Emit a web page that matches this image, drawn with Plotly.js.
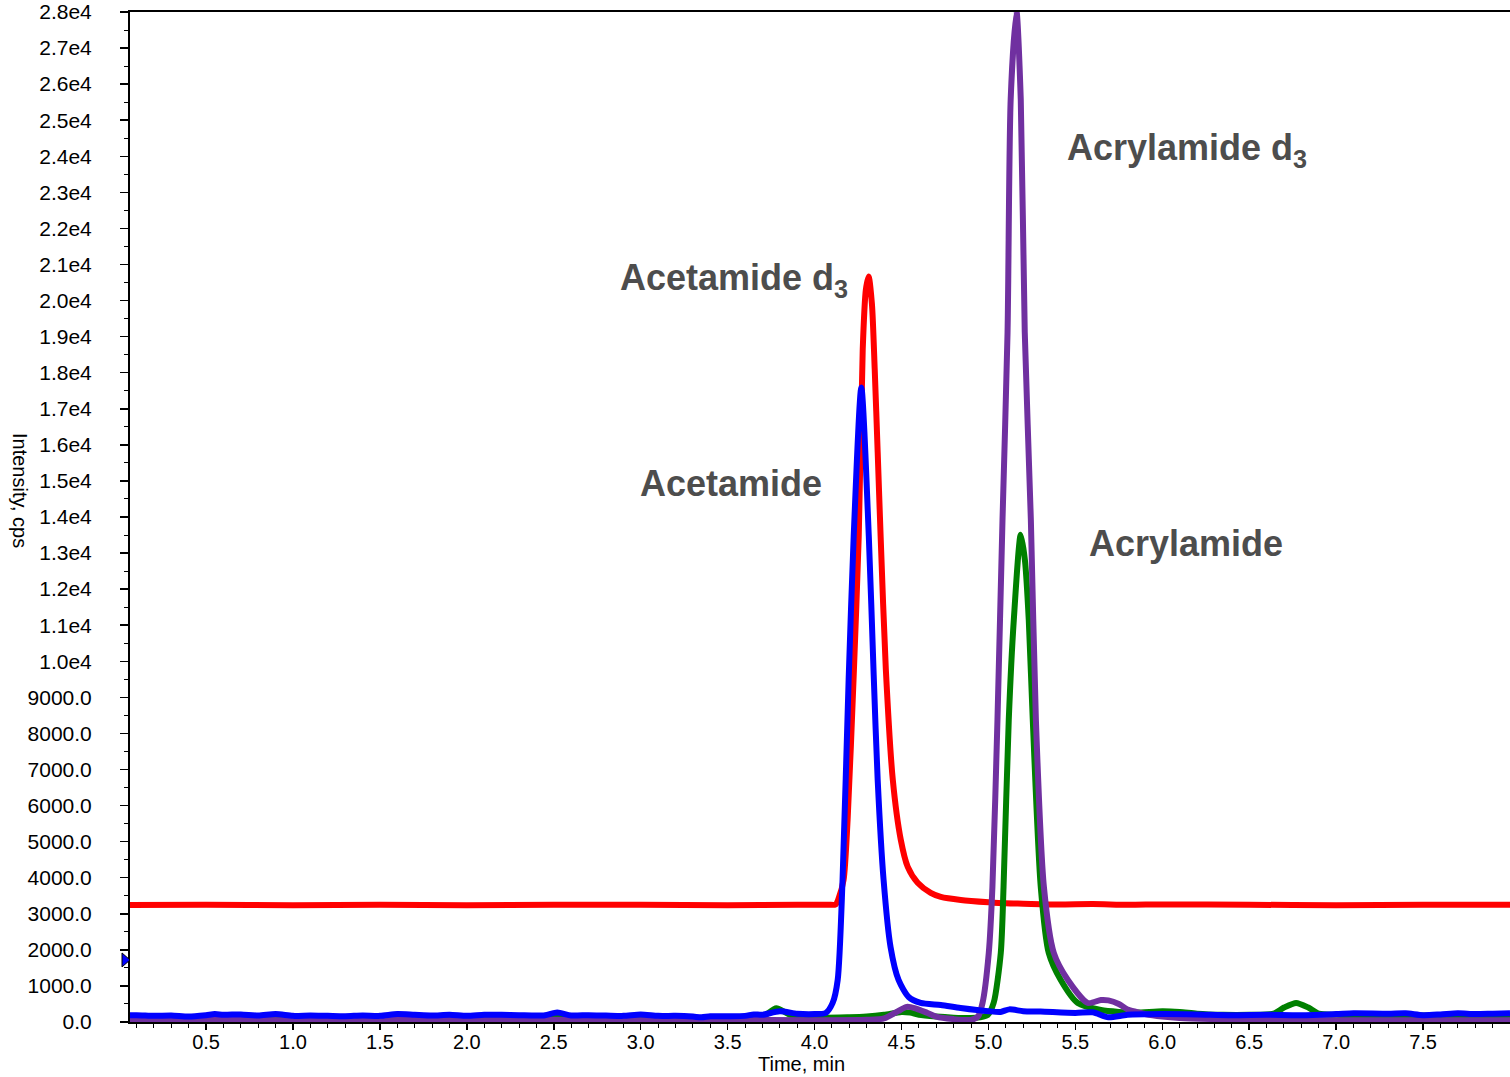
<!DOCTYPE html>
<html>
<head>
<meta charset="utf-8">
<script src="https://cdn.plot.ly/plotly-3.0.1.min.js"></script>
<style>html,body{margin:0;padding:0;background:#fff;}#chart{width:1510px;height:1077px;}</style>
</head>
<body>
<div id="chart"></div>
<script>
// Acetamide d3 (red)
const redTime = [0.0,0.5,1.0,1.5,2.0,2.5,3.0,3.5,3.9,4.08,4.121,4.14,4.167,4.19,4.225,4.254,4.277,4.295,4.311,4.33,4.346,4.363,4.38,4.41,4.45,4.496,4.536,4.593,4.668,4.726,4.841,5.0,5.1,5.2,5.4,5.6,5.8,6.0,6.5,7.0,7.5,8.0];
const redInt  = [3240,3250,3240,3250,3240,3250,3250,3240,3250,3250,3260,3450,3940,5600,9600,13460,18650,20300,20670,19900,18090,15800,13460,9770,6715,5050,4300,3860,3580,3470,3385,3320,3290,3280,3260,3270,3250,3260,3250,3240,3250,3250];

// Acrylamide (green)
const greenTime = [0.0,0.5,1.0,1.5,2.0,2.5,3.0,3.5,3.7,3.78,3.86,4.0,4.2,4.3,4.4,4.5,4.55,4.6,4.7,4.8,4.9,4.95,4.996,5.03,5.071,5.087,5.117,5.146,5.186,5.21,5.232,5.255,5.301,5.347,5.416,5.514,5.647,5.75,5.85,6.0,6.1,6.2,6.35,6.5,6.64,6.7,6.77,6.84,6.9,7.0,7.5,8.0];
const greenInt  = [100,110,100,110,120,140,110,100,150,380,200,120,130,150,200,280,260,200,150,120,110,130,194,527,1915,3746,8380,11150,13510,12800,11150,8380,3746,1915,1165,527,333,280,260,300,280,230,200,200,230,400,530,400,230,200,180,190];

// Acrylamide d3 (purple)
const purpleTime = [0.0,0.5,1.0,1.5,2.0,2.5,3.0,3.5,4.0,4.3,4.4,4.48,4.53,4.58,4.65,4.7,4.8,4.9,4.94,4.966,5.002,5.023,5.052,5.081,5.11,5.128,5.161,5.186,5.209,5.244,5.273,5.319,5.376,5.457,5.572,5.647,5.69,5.75,5.8,5.85,5.9,6.0,6.1,6.3,6.5,7.0,7.5,8.0];
const purpleInt  = [50,60,50,60,50,60,50,60,50,60,100,300,420,380,250,150,80,60,150,527,1915,3746,8380,13930,19120,25580,28030,25580,19120,13930,8380,3746,1915,1165,527,610,600,500,350,280,220,150,110,80,60,50,50,50];

// Acetamide (blue)
const blueTime = [0.0,0.1,0.2,0.3,0.4,0.5,0.55,0.6,0.7,0.8,0.9,1.0,1.1,1.2,1.3,1.4,1.5,1.6,1.7,1.8,1.9,2.0,2.1,2.2,2.3,2.4,2.45,2.52,2.6,2.7,2.8,2.9,3.0,3.1,3.2,3.3,3.35,3.4,3.5,3.6,3.65,3.7,3.8,3.9,4.0,4.064,4.104,4.133,4.161,4.196,4.225,4.269,4.312,4.34,4.363,4.397,4.437,4.483,4.541,4.61,4.726,4.84,5.0,5.07,5.12,5.2,5.3,5.5,5.6,5.69,5.8,6.0,6.2,6.4,6.6,6.8,7.0,7.1,7.3,7.4,7.5,7.6,7.7,7.8,7.9,8.0];
const blueInt  = [180,190,170,180,150,190,220,200,210,180,220,170,180,170,160,180,170,220,200,180,200,170,200,200,190,180,190,260,180,190,180,170,210,170,170,150,130,160,160,170,210,200,300,230,220,250,530,1165,3940,9490,13460,17590,13460,9630,6715,3940,2080,1165,694,530,470,390,300,280,350,300,290,250,270,130,200,220,210,190,200,190,220,240,230,240,190,210,240,220,230,240];

// start-time marker level
const markerInt = 1720;

// ticks
const xTickVals = [0.5,1.0,1.5,2.0,2.5,3.0,3.5,4.0,4.5,5.0,5.5,6.0,6.5,7.0,7.5];
const xTickText = ["0.5","1.0","1.5","2.0","2.5","3.0","3.5","4.0","4.5","5.0","5.5","6.0","6.5","7.0","7.5"];
const yTickVals = [0,1000,2000,3000,4000,5000,6000,7000,8000,9000,10000,11000,12000,13000,14000,15000,16000,17000,18000,19000,20000,21000,22000,23000,24000,25000,26000,27000,28000];
const yTickText = ["0.0","1000.0","2000.0","3000.0","4000.0","5000.0","6000.0","7000.0","8000.0","9000.0","1.0e4","1.1e4","1.2e4","1.3e4","1.4e4","1.5e4","1.6e4","1.7e4","1.8e4","1.9e4","2.0e4","2.1e4","2.2e4","2.3e4","2.4e4","2.5e4","2.6e4","2.7e4","2.8e4"];

// peak labels
const labelText = ["Acetamide d<sub>3</sub>","Acrylamide d<sub>3</sub>","Acetamide","Acrylamide"];
const labelTime = [3.534,6.142,3.517,6.136];
const labelInt  = [20560,24170,14930,13260];

const FONT = "Liberation Sans, Arial, Helvetica, sans-serif";
function line(x, y, color, name) {
  return {x: x, y: y, type: "scatter", mode: "lines", name: name,
          line: {color: color, width: 6, shape: "spline", smoothing: 0.7},
          hoverinfo: "skip"};
}
const traces = [
  line(redTime, redInt, "#ff0000", "Acetamide d3"),
  line(greenTime, greenInt, "#008000", "Acrylamide"),
  line(purpleTime, purpleInt, "#7030a0", "Acrylamide d3"),
  line(blueTime, blueInt, "#0000ff", "Acetamide")
];

const annotations = labelText.map((t, i) => ({
  x: labelTime[i], y: labelInt[i], xref: "x", yref: "y", text: t, showarrow: false,
  xanchor: "center", yanchor: "middle",
  font: {family: FONT, size: 36, color: "#4d4d4d", weight: "bold"}
}));
annotations.push({
  xref: "paper", yref: "paper", x: (801 - 130) / 1380, y: (1022 - 1064) / 1010,
  text: "Time, min", showarrow: false, xanchor: "center", yanchor: "middle",
  font: {family: FONT, size: 20, color: "#000"}
});
annotations.push({
  xref: "paper", yref: "paper", x: (20 - 130) / 1380, y: 1 - (490 - 12) / 1010,
  text: "Intensity, cps", showarrow: false, textangle: 90, xanchor: "center", yanchor: "middle",
  font: {family: FONT, size: 20, color: "#000"}
});

const shapes = [{
  type: "path", xref: "paper", yref: "y", xsizemode: "pixel", ysizemode: "pixel",
  xanchor: 0, yanchor: markerInt, path: "M -8 -7 L 0 0 L -8 7 Z",
  fillcolor: "#0000ff", line: {color: "#000", width: 1}, layer: "above"
}];

const layout = {
  width: 1510, height: 1077,
  margin: {l: 130, r: 0, t: 12, b: 55, pad: 0},
  paper_bgcolor: "#fff", plot_bgcolor: "#fff",
  showlegend: false,
  font: {family: FONT, size: 20, color: "#000"},
  xaxis: {
    range: [0.0625, 8.0], tickmode: "array", tickvals: xTickVals, ticktext: xTickText,
    ticks: "outside", ticklen: 6, tickwidth: 1.5, tickcolor: "#000",
    minor: {tickmode: "linear", tick0: 0, dtick: 0.1, ticks: "outside", ticklen: 4, tickwidth: 1, tickcolor: "#000"},
    showline: true, linewidth: 2, linecolor: "#000", mirror: true,
    showgrid: false, zeroline: false,
    tickfont: {family: FONT, size: 20, color: "#000"}, ticklabelstandoff: -5
  },
  yaxis: {
    range: [0, 28000], tickmode: "array", tickvals: yTickVals, ticktext: yTickText,
    ticks: "outside", ticklen: 8, tickwidth: 1.5, tickcolor: "#000",
    minor: {tickmode: "linear", tick0: 0, dtick: 500, ticks: "outside", ticklen: 4, tickwidth: 1, tickcolor: "#000"},
    showline: true, linewidth: 2, linecolor: "#000", mirror: false,
    showgrid: false, zeroline: false,
    tickfont: {family: FONT, size: 21, color: "#000"}, ticklabelstandoff: 24
  },
  shapes: shapes,
  annotations: annotations
};

Plotly.newPlot("chart", traces, layout, {displayModeBar: false, staticPlot: true});
</script>
</body>
</html>
